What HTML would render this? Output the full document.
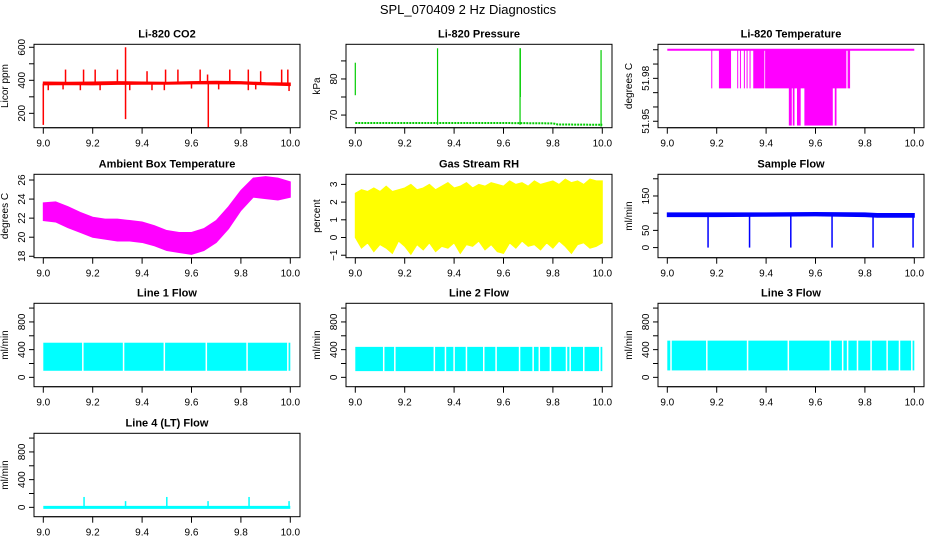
<!DOCTYPE html>
<html><head><meta charset="utf-8"><style>
html,body{margin:0;padding:0;background:#fff;}
svg{display:block;font-family:"Liberation Sans",Arial,sans-serif;}
</style></head><body>
<svg id="chart" width="936" height="540" viewBox="0 0 936 540" xmlns="http://www.w3.org/2000/svg">
<rect width="936" height="540" fill="#fff"/>
<text x="468" y="14" text-anchor="middle" font-size="13">SPL_070409  2 Hz Diagnostics</text>
</svg>
<script>
// ---- data ----
const xTicks=[9.0,9.2,9.4,9.6,9.8,10.0];
const xTickLabels=["9.0","9.2","9.4","9.6","9.8","10.0"];
// CO2
const co2X=[9.0,9.1,9.2,9.3,9.4,9.5,9.6,9.7,9.8,9.9,10.0];
const co2Hi=[390,388,390,392,390,388,392,394,392,386,384];
const co2Lo=[372,374,372,375,376,376,378,378,378,372,368];
const co2SpikeX=[9.09,9.163,9.21,9.30,9.333,9.42,9.495,9.545,9.635,9.665,9.755,9.83,9.88,9.965,9.99];
const co2SpikeHi=[465,465,465,465,600,455,465,465,465,435,465,465,455,465,465];
const co2DipX=[9.0,9.02,9.08,9.15,9.23,9.333,9.35,9.44,9.49,9.6,9.668,9.71,9.83,9.86,9.995];
const co2DipLo=[130,340,345,340,340,165,340,340,340,350,115,345,340,345,335];
// Pressure
const prX=[9.0,9.2,9.4,9.6,9.8,9.82,10.0];
const prVal=[67.8,67.8,67.8,67.8,67.7,67.4,67.3];
const prSpikeX=[9.0,9.333,9.667,9.668,9.995];
const prSpikeLo=[75.5,67.3,67.3,75,66.8];
const prSpikeHi=[84.5,88.5,88.5,88.5,88];
// Li-820 temperature
const ltTop=52.0;
const ltStart=[9.178,9.209,9.283,9.294,9.310,9.321,9.333,9.348,9.396,9.730,9.492,9.508,9.525,9.555,9.678];
const ltEnd=[9.181,9.258,9.286,9.297,9.313,9.324,9.337,9.393,9.725,9.740,9.504,9.515,9.540,9.670,9.685];
const ltLevel=[51.973,51.973,51.973,51.973,51.973,51.973,51.973,51.973,51.973,51.973,51.947,51.947,51.947,51.947,51.947];
// Ambient box temperature
const abX=[9.0,9.05,9.1,9.15,9.2,9.25,9.3,9.35,9.4,9.45,9.5,9.55,9.6,9.65,9.7,9.75,9.8,9.85,9.9,9.95,10.0];
const abHi=[23.6,23.7,23.2,22.6,22.1,21.9,21.9,21.75,21.6,21.2,20.7,20.5,20.5,20.9,21.75,23.2,24.9,26.2,26.35,26.2,25.8];
const abLo=[21.75,21.6,21.0,20.5,20.0,19.8,19.6,19.6,19.45,19.1,18.6,18.4,18.2,18.6,19.45,20.9,22.8,24.2,24.05,23.9,24.2];
// Gas stream RH
const rhX=[9.0,9.025,9.05,9.075,9.1,9.125,9.15,9.175,9.2,9.225,9.25,9.275,9.3,9.325,9.35,9.375,9.4,9.425,9.45,9.475,9.5,9.525,9.55,9.575,9.6,9.625,9.65,9.675,9.7,9.725,9.75,9.775,9.8,9.825,9.85,9.875,9.9,9.925,9.95,9.975,10.0];
const rhHi=[2.5,2.7,2.6,2.8,2.6,2.9,2.6,2.7,2.8,3.0,2.7,2.8,3.0,2.7,2.9,3.1,2.8,2.9,3.1,2.8,3.0,2.9,3.1,3.0,2.9,3.2,3.0,3.1,2.9,3.2,3.0,3.1,3.2,3.0,3.3,3.1,3.2,3.0,3.3,3.2,3.2];
const rhLo=[0.0,-0.6,-0.3,-0.8,-0.4,-0.6,-0.9,-0.2,-0.5,-0.95,-0.4,-0.7,-0.3,-0.8,-0.5,-0.6,-0.3,-0.9,-0.4,-0.5,-0.2,-0.7,-0.4,-0.8,-0.9,-0.3,-0.6,-0.2,-0.5,-0.4,-0.7,-0.3,-0.6,-0.2,-0.5,-0.9,-0.4,-0.3,-0.6,-0.5,-0.3];
// Sample flow
const sfX=[9.0,9.2,9.4,9.6,9.8,9.85,10.0];
const sfHi=[101,101,101,102,101,99,99];
const sfLo=[90,90,91,92,90,88,88];
const sfDipX=[9.165,9.333,9.5,9.667,9.833,9.995];
const sfDipLo=[0,0,0,0,0,0];
// Line flows
const l1Hi=500, l1Lo=95;
const l1Gaps=[9.16,9.325,9.49,9.66,9.825,9.99];
const l2Hi=440, l2Lo=90;
const l2Gaps=[9.115,9.16,9.32,9.365,9.40,9.45,9.52,9.57,9.665,9.72,9.745,9.79,9.855,9.87,9.925,9.99];
const l3Hi=530, l3Lo=100;
const l3Gaps=[9.015,9.16,9.325,9.49,9.66,9.71,9.73,9.77,9.825,9.89,9.94,9.99];
const l4Base=0;
const l4SpikeX=[9.165,9.333,9.5,9.667,9.833,9.995];
const l4SpikeHi=[150,90,150,90,150,90];

// ---- drawing ----
const NS="http://www.w3.org/2000/svg";
const svg=document.getElementById('chart');
function mk(tag,attrs,parent){const e=document.createElementNS(NS,tag);for(const k in attrs)e.setAttribute(k,attrs[k]);(parent||svg).appendChild(e);return e;}
const rowTop=[44.3,174.3,303.3,433.3];
function panel(key,col,row,title,ylab,yMin,yMax,ticks,labels){
  const g=mk('g',{});
  
  
  const L=34+312*col,R=L+266,T=rowTop[row],B=T+83.4;
  const X=v=>L+9.3+(v-9)*247;
  const Y=v=>B-(v-yMin)/(yMax-yMin)*(B-T);
  const t=mk('text',{x:(L+R)/2,y:T-7,'text-anchor':'middle','font-size':11,'font-weight':'bold'},g);
  t.textContent=title;
  
  
  const ax=mk('g',{stroke:'#000','stroke-width':1},g);
  
  
  mk('line',{x1:X(9),x2:X(10),y1:B,y2:B},ax);
  xTicks.forEach((v,i)=>{
    const tk=mk('line',{x1:X(v),x2:X(v),y1:B,y2:B+6},ax);
    
    const tl=mk('text',{x:X(v),y:B+19,'text-anchor':'middle','font-size':10,stroke:'none'},ax);
    tl.textContent=xTickLabels[i];
    
  });
  const ay=mk('g',{stroke:'#000','stroke-width':1},g);
  
  
  mk('line',{x1:L,x2:L,y1:Y(ticks[0]),y2:Y(ticks[ticks.length-1])},ay);
  ticks.forEach((v,i)=>{
    const tk=mk('line',{x1:L-5,x2:L,y1:Y(v),y2:Y(v)},ay);
    
    if(labels[i]!==''){
      const tl=mk('text',{x:L-9,y:Y(v),'text-anchor':'middle','font-size':10,stroke:'none',transform:`rotate(-90 ${L-9} ${Y(v)})`},ay);
      tl.textContent=labels[i];
      
    }
  });
  const yl=mk('text',{x:L-26,y:(T+B)/2,'text-anchor':'middle','font-size':10,transform:`rotate(-90 ${L-26} ${(T+B)/2})`},g);
  yl.textContent=ylab;
  
  
  const plot=mk('g',{},g);
  
  
  const box=mk('rect',{x:L,y:T,width:R-L,height:B-T,fill:'none',stroke:'#000','stroke-width':1},g);
  
  
  return {plot,X,Y};
}
function band(p,xs,hi,lo,color,name){
  let pts=xs.map((x,i)=>p.X(x)+','+p.Y(hi[i]));
  for(let i=xs.length-1;i>=0;i--)pts.push(p.X(xs[i])+','+p.Y(lo[i]));
  const e=mk('polygon',{points:pts.join(' '),fill:color,stroke:color,'stroke-width':1},p.plot);
  
  
}
function vline(p,x,y1,y2,color,w,name){
  const e=mk('line',{x1:p.X(x),x2:p.X(x),y1:p.Y(y1),y2:p.Y(y2),stroke:color,'stroke-width':w},p.plot);
  
  
}

// CO2
const p1=panel('co2',0,0,'Li-820 CO2','Licor ppm',113,618,[200,300,400,500,600],['200','','400','','600']);
band(p1,co2X,co2Hi,co2Lo,'#ff0000','co2-band');
co2SpikeX.forEach((x,i)=>vline(p1,x,380,co2SpikeHi[i],'#ff0000',1.5,'co2-spike'));
co2DipX.forEach((x,i)=>vline(p1,x,380,co2DipLo[i],'#ff0000',1.5,'co2-dip'));
// Pressure
const p2=panel('pressure',1,0,'Li-820 Pressure','kPa',66.5,89.6,[70,75,80,85],['70','','80','']);
{const pts=prX.map((x,i)=>p2.X(x)+','+p2.Y(prVal[i])).join(' ');
 const e=mk('polyline',{points:pts,fill:'none',stroke:'#00cc00','stroke-width':2,'stroke-dasharray':'2 1'},p2.plot);
 
 }
prSpikeX.forEach((x,i)=>vline(p2,x,prSpikeLo[i],prSpikeHi[i],'#00cc00',1.2,'pressure-spike'));
// Li-820 temperature
const p3=panel('li820-temp',2,0,'Li-820 Temperature','degrees C',51.9455,52.0038,[51.95,51.96,51.97,51.98,51.99,52.0],['51.95','','','51.98','','']);
{const e=mk('line',{x1:p3.X(9),x2:p3.X(10),y1:p3.Y(ltTop),y2:p3.Y(ltTop),stroke:'#ff00ff','stroke-width':2},p3.plot);
 
 }
ltStart.forEach((s,i)=>{
  const x1=p3.X(s),x2=Math.max(p3.X(ltEnd[i]),x1+1);
  const e=mk('rect',{x:x1,y:p3.Y(ltTop),width:x2-x1,height:p3.Y(ltLevel[i])-p3.Y(ltTop),fill:'#ff00ff'},p3.plot);
  
  
});
// Ambient
const p4=panel('ambient-temp',0,1,'Ambient Box Temperature','degrees C',17.85,26.6,[18,20,22,24,26],['18','20','22','24','26']);
band(p4,abX,abHi,abLo,'#ff00ff','ambient-band');
// RH
const p5=panel('rh',1,1,'Gas Stream RH','percent',-1.14,3.57,[-1,0,1,2,3],['\u22121','0','1','2','3']);
band(p5,rhX,rhHi,rhLo,'#ffff00','rh-band');
// Sample flow
const p6=panel('sample-flow',2,1,'Sample Flow','ml/min',-29.4,213,[0,50,100,150,200],['0','50','','150','']);
band(p6,sfX,sfHi,sfLo,'#0000ff','sample-flow-band');
sfDipX.forEach((x,i)=>vline(p6,x,92,sfDipLo[i],'#0000ff',1.5,'sample-flow-dip'));
// Line flows
function flow(p,hi,lo,gaps,key){
  const e=mk('rect',{x:p.X(9),y:p.Y(hi),width:p.X(10)-p.X(9),height:p.Y(lo)-p.Y(hi),fill:'#00ffff'},p.plot);
  
  
  gaps.forEach(x=>vline(p,x,hi+5,lo-5,'#ffffff',1.5,key+'-gap'));
}
const fT=[0,200,400,600,800,1000],fL=['0','','400','','800',''];
const p7=panel('line1-flow',0,2,'Line 1 Flow','ml/min',-135,1069,fT,fL);
flow(p7,l1Hi,l1Lo,l1Gaps,'line1-flow');
const p8=panel('line2-flow',1,2,'Line 2 Flow','ml/min',-135,1069,fT,fL);
flow(p8,l2Hi,l2Lo,l2Gaps,'line2-flow');
const p9=panel('line3-flow',2,2,'Line 3 Flow','ml/min',-135,1069,fT,fL);
flow(p9,l3Hi,l3Lo,l3Gaps,'line3-flow');
const p10=panel('line4-flow',0,3,'Line 4 (LT) Flow','ml/min',-135,1069,fT,fL);
{const e=mk('line',{x1:p10.X(9),x2:p10.X(10),y1:p10.Y(l4Base),y2:p10.Y(l4Base),stroke:'#00ffff','stroke-width':3},p10.plot);
 
 }
l4SpikeX.forEach((x,i)=>vline(p10,x,l4Base,l4SpikeHi[i],'#00ffff',1.5,'line4-flow-spike'));
</script>
</body></html>
